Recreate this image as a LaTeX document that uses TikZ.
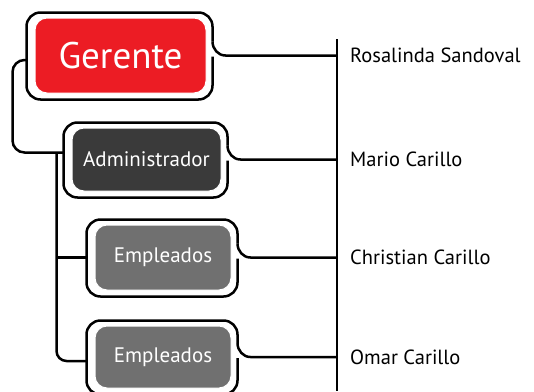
\documentclass[tikz,border=0pt]{standalone}
\usepackage{fontspec}
\setmainfont{PT Sans}
\usetikzlibrary{calc}
\definecolor{gerred}{HTML}{EC1C24}
\definecolor{admdark}{HTML}{3A3A3A}
\definecolor{empgray}{HTML}{707070}

\begin{document}
\begin{tikzpicture}[x=1pt, y=1pt,
    edge/.style={line width=2.5pt, black},
    role/.style={rectangle, rounded corners=12pt, draw=white, line width=1pt, text=white, inner sep=0pt},
    person/.style={anchor=west, inner sep=0pt, font=\fontsize{20.5}{22}\selectfont}]

    \useasboundingbox (0,0) rectangle (534,-391);

    \node[role, fill=gerred, minimum width=171pt, minimum height=75pt, font=\fontsize{37}{40}\selectfont] (ger) at (120.5,-55.5) {Gerente};
    \node[role, fill=admdark, minimum width=149pt, minimum height=63pt, font=\fontsize{21}{23}\selectfont] (adm) at (146.5,-159.5) {Administrador};
    \node[role, fill=empgray, minimum width=136pt, minimum height=65pt, font=\fontsize{21}{23}\selectfont] (em1) at (163,-257.5) {Empleados};
    \node[role, fill=empgray, minimum width=136pt, minimum height=62pt, font=\fontsize{21}{23}\selectfont] (em2) at (163,-357) {Empleados};

    \coordinate (bartop) at (337,-39);
    \coordinate (barbot) at (337,-391);
    \coordinate (trunk) at ($(adm.west)+(-15,7)$);

    \draw[edge] (bartop) -- (barbot);

    \foreach \n in {ger,adm,em1,em2}{
      \draw[edge, rounded corners=14pt]
        ($(\n.east)+(6,-1)$) |- ($(\n.south west)+(-8,-6)$) |- ($(\n.north east)+(6,5)$) -- ($(\n.east)+(6,14)$);
      \draw[edge]
        ($(\n.east)+(6,14)$) to[out=-90, in=180] ($(\n.east)+(19,0)$) -- (\n.east -| bartop);
    }

    \draw[edge, rounded corners=12pt]
      ($(ger.west)+(-8,-4.5)$) -| ($(adm.west)+(-59,7)$) -- ($(adm.west)+(-8,7)$);
    \draw[edge, rounded corners=10pt]
      (trunk) |- ($(em2.west)+(-8,-4)$);
    \draw[edge] (em1.west -| trunk) -- ($(em1.west)+(-8,0)$);

    \node[person] (ros) at ($(ger.east -| bartop)+(13,0)$) {Rosalinda Sandoval};
    \node[person] (mar) at ($(adm.east -| bartop)+(13,0)$) {Mario Carillo};
    \node[person] (chr) at ($(em1.east -| bartop)+(13,0)$) {Christian Carillo};
    \node[person] (oma) at ($(em2.east -| bartop)+(13,0)$) {Omar Carillo};
\end{tikzpicture}
\end{document}
